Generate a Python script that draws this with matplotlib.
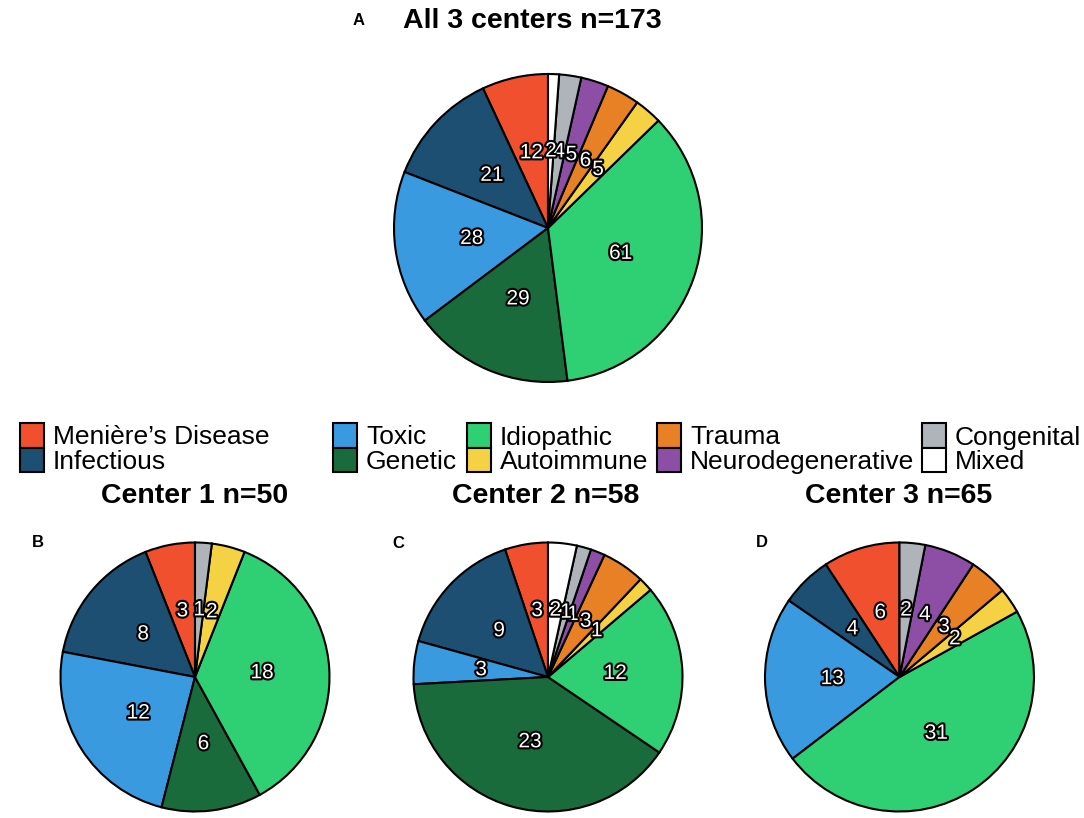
import matplotlib
matplotlib.use("Agg")
import matplotlib.pyplot as plt
import matplotlib.patheffects as pe
from matplotlib.patches import Rectangle
import numpy as np

plt.rcParams['font.family'] = ['Liberation Sans', 'DejaVu Sans']

# ---------------- data ----------------
categories = ["Menière’s Disease", "Infectious", "Toxic", "Genetic", "Idiopathic",
              "Autoimmune", "Trauma", "Neurodegenerative", "Congenital", "Mixed"]
colors = ["#F0502E", "#1C4F72", "#3A9ADF", "#1A6B3B", "#2FCF74",
          "#F5D243", "#E88125", "#8D4FA6", "#AEB4B9", "#FFFFFF"]

all_centers = [12, 21, 28, 29, 61, 5, 6, 5, 4, 2]
center1 = [3, 8, 12, 6, 18, 2, 0, 0, 1, 0]
center2 = [3, 9, 3, 23, 12, 1, 3, 1, 1, 2]
center3 = [6, 4, 13, 0, 31, 2, 3, 4, 2, 0]

titles = ["All 3 centers n=173", "Center 1 n=50", "Center 2 n=58", "Center 3 n=65"]
panel_letters = ["A", "B", "C", "D"]

# ---------------- layout (pixels) ----------------
W, H = 1084, 818
fig = plt.figure(figsize=(W / 100, H / 100), dpi=100)

bg = fig.add_axes([0, 0, 1, 1])
bg.set_xlim(0, W)
bg.set_ylim(H, 0)
bg.axis("off")

pies = [
    (all_centers, 548, 228, 154),
    (center1, 195, 677, 134.5),
    (center2, 548, 677, 134.5),
    (center3, 899.5, 677, 134.5),
]
title_pos = [(532, 28), (194.5, 503), (546, 503), (899, 503)]
letter_pos = [(353, 25), (32, 547), (392, 548), (756, 547)]

stroke = [pe.Stroke(linewidth=3.0, foreground="black"), pe.Normal()]

M = 1.03
for (vals, cx, cy, r) in pies:
    rr = r * M
    ax = fig.add_axes([(cx - rr) / W, 1 - (cy + rr) / H, 2 * rr / W, 2 * rr / H])
    idx = [i for i, v in enumerate(vals) if v > 0]
    v = [vals[i] for i in idx]
    c = [colors[i] for i in idx]
    wedges, _ = ax.pie(v, colors=c, startangle=90, counterclock=True,
                       wedgeprops=dict(edgecolor="black", linewidth=1.5),
                       radius=1.0)
    for w, val in zip(wedges, v):
        mid = np.deg2rad((w.theta1 + w.theta2) / 2)
        ax.text(0.5 * np.cos(mid), 0.5 * np.sin(mid), str(val),
                ha="center", va="center", fontsize=15, color="white",
                path_effects=stroke)
    ax.set_xlim(-M, M)
    ax.set_ylim(-M, M)
    ax.set_aspect("equal")
    ax.axis("off")

for t, (x, y) in zip(titles, title_pos):
    bg.text(x, y, t, ha="center", va="baseline", fontsize=20.5, fontweight="bold")
for l, (x, y) in zip(panel_letters, letter_pos):
    bg.text(x, y, l, ha="left", va="baseline", fontsize=12, fontweight="bold")

# ---------------- legend ----------------
col_x = [20, 333, 467, 657, 922]
key_w, key_h = 24, 24.5
key_top = 423
text_gap = 33
for i, (name, col) in enumerate(zip(categories, colors)):
    ci, ri = i // 2, i % 2
    x = col_x[ci]
    y = key_top + ri * key_h
    bg.add_patch(Rectangle((x, y), key_w, key_h, facecolor=col,
                           edgecolor="black", linewidth=1.5))
    bg.text(x + text_gap, y + key_h - 3, name, ha="left", va="baseline",
            fontsize=19)

fig.savefig("out.png", dpi=100)
